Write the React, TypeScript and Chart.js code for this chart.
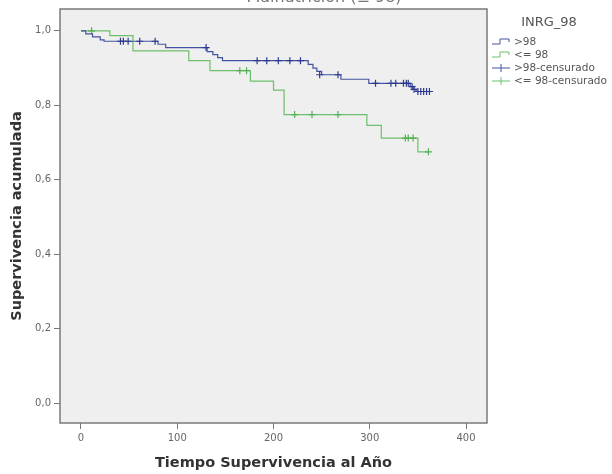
import React, { useEffect, useRef } from "react";
import { Chart, registerables } from "chart.js";

Chart.register(...registerables);

// Kaplan-Meier curve, group ">98"
const blueTime = [0, 5, 12, 20, 24, 80, 88, 131, 137, 142, 147, 236, 241, 245, 250, 270, 299, 342, 345, 348, 362];
const blueSurv = [1, 0.992, 0.984, 0.976, 0.972, 0.964, 0.955, 0.944, 0.936, 0.928, 0.92, 0.91, 0.9, 0.891, 0.882, 0.87, 0.859, 0.85, 0.843, 0.837, 0.837];
// censored observations, group ">98"
const blueCensTime = [41, 44, 49, 61, 77, 130, 183, 193, 205, 217, 228, 248, 267, 306, 322, 327, 335, 338, 340, 344, 346, 350, 353, 356, 359, 362];
const blueCensSurv = [0.972, 0.972, 0.972, 0.972, 0.972, 0.955, 0.92, 0.92, 0.92, 0.92, 0.92, 0.882, 0.882, 0.859, 0.859, 0.859, 0.859, 0.859, 0.859, 0.85, 0.843, 0.837, 0.837, 0.837, 0.837, 0.837];

// Kaplan-Meier curve, group "<= 98"
const greenTime = [0, 30, 54, 112, 134, 176, 200, 211, 297, 312, 350, 361];
const greenSurv = [1, 0.987, 0.946, 0.92, 0.893, 0.865, 0.841, 0.775, 0.746, 0.712, 0.675, 0.675];
// censored observations, group "<= 98"
const greenCensTime = [11, 165, 172, 222, 240, 267, 337, 340, 345, 361];
const greenCensSurv = [1, 0.893, 0.893, 0.775, 0.775, 0.775, 0.712, 0.712, 0.712, 0.675];

const xTicks = [0, 100, 200, 300, 400];
const yTicks = [0, 0.2, 0.4, 0.6, 0.8, 1.0];
const yTickLabels = ["0,0", "0,2", "0,4", "0,6", "0,8", "1,0"];

const legendTitle = "INRG_98";
const legendLabels = [">98", "<= 98", ">98-censurado", "<= 98-censurado"];
const chartTitle = "Malnutrición (≥ 98)";
const xTitle = "Tiempo Supervivencia al Año";
const yTitle = "Supervivencia acumulada";

const BLUE = "#44539f";
const GREEN = "#6cc06c";
const FONT = "'DejaVu Sans', sans-serif";

function toPoints(xs: number[], ys: number[]) {
  return xs.map((x, i) => ({ x, y: ys[i] }));
}

export default function App() {
  const ref = useRef<HTMLCanvasElement | null>(null);

  useEffect(() => {
    if (!ref.current) return;

    const framePlugin = {
      id: "frame",
      beforeDatasetsDraw(chart: any) {
        const { ctx, chartArea: a } = chart;
        ctx.save();
        ctx.fillStyle = "#efefef";
        ctx.fillRect(a.left, a.top, a.right - a.left, a.bottom - a.top);
        ctx.restore();
      },
      afterDraw(chart: any) {
        const { ctx, chartArea: a } = chart;
        ctx.save();
        ctx.strokeStyle = "#7a7a7a";
        ctx.lineWidth = 1.5;
        ctx.strokeRect(a.left, a.top, a.right - a.left, a.bottom - a.top);

        // partially visible title at top (cut by the top edge)
        ctx.fillStyle = "#777";
        ctx.font = `16px ${FONT}`;
        ctx.textAlign = "center";
        ctx.textBaseline = "alphabetic";
        ctx.fillText(chartTitle, 324, 1.5);

        // legend
        ctx.font = `13px ${FONT}`;
        ctx.fillStyle = "#555";
        ctx.textBaseline = "middle";
        ctx.fillText(legendTitle, 549, 23);
        ctx.font = `10.5px ${FONT}`;
        ctx.textAlign = "left";
        const ys = [42, 55, 68, 81];
        const cols = [BLUE, GREEN, BLUE, GREEN];
        legendLabels.forEach((lab, i) => {
          const y = ys[i];
          ctx.strokeStyle = cols[i];
          ctx.lineWidth = 1;
          ctx.beginPath();
          if (i < 2) {
            ctx.moveTo(492, y + 2);
            ctx.lineTo(500, y + 2);
            ctx.lineTo(500, y - 3);
            ctx.lineTo(509, y - 3);
            ctx.lineTo(509, y);
          } else {
            ctx.moveTo(492, y);
            ctx.lineTo(510, y);
            ctx.moveTo(501, y - 4);
            ctx.lineTo(501, y + 4);
          }
          ctx.stroke();
          ctx.fillStyle = "#555";
          ctx.fillText(lab, 514, y);
        });
        ctx.restore();
      },
    };

    const chart = new Chart(ref.current, {
      type: "scatter",
      data: {
        datasets: [
          {
            label: legendLabels[2],
            data: toPoints(blueCensTime, blueCensSurv),
            showLine: false,
            pointStyle: "cross",
            pointRadius: 3.5,
            borderColor: "#2b3a8e",
            borderWidth: 1.2,
            backgroundColor: "#2b3a8e",
          },
          {
            label: legendLabels[0],
            data: toPoints(blueTime, blueSurv),
            showLine: true,
            stepped: true,
            pointRadius: 0,
            borderColor: BLUE,
            borderWidth: 1.2,
            fill: false,
          },
          {
            label: legendLabels[3],
            data: toPoints(greenCensTime, greenCensSurv),
            showLine: false,
            pointStyle: "cross",
            pointRadius: 3.5,
            borderColor: "#55b055",
            borderWidth: 1.2,
            backgroundColor: "#55b055",
          },
          {
            label: legendLabels[1],
            data: toPoints(greenTime, greenSurv),
            showLine: true,
            stepped: true,
            pointRadius: 0,
            borderColor: GREEN,
            borderWidth: 1.2,
            fill: false,
          },
        ],
      },
      options: {
        responsive: false,
        animation: false,
        devicePixelRatio: 1,
        layout: { padding: { left: 0, top: 7, right: 125, bottom: 0 } },
        plugins: {
          legend: { display: false },
          tooltip: { enabled: false },
          title: { display: false },
        },
        scales: {
          x: {
            type: "linear",
            min: -21.8,
            max: 421.8,
            afterFit(axis: any) {
              axis.height = 51;
            },
            afterBuildTicks(axis: any) {
              axis.ticks = xTicks.map((v) => ({ value: v }));
            },
            grid: {
              display: true,
              drawOnChartArea: false,
              drawTicks: true,
              tickLength: 6,
              color: "#777",
            },
            border: { display: false },
            ticks: {
              padding: 3,
              color: "#666",
              font: { family: FONT, size: 10 },
              callback: (v: any) => String(v),
            },
            title: {
              display: true,
              text: xTitle,
              color: "#333",
              font: { family: FONT, size: 14.5, weight: "bold" },
              padding: { top: 0, bottom: 2 },
            },
          },
          y: {
            type: "linear",
            min: -0.0535,
            max: 1.0587,
            afterFit(axis: any) {
              axis.width = 60;
            },
            afterBuildTicks(axis: any) {
              axis.ticks = yTicks.map((v) => ({ value: v }));
            },
            grid: {
              display: true,
              drawOnChartArea: false,
              drawTicks: true,
              tickLength: 6,
              color: "#777",
            },
            border: { display: false },
            ticks: {
              padding: 3,
              color: "#666",
              font: { family: FONT, size: 10 },
              callback: (v: any) => {
                const i = yTicks.findIndex((t) => Math.abs(t - Number(v)) < 1e-6);
                return i >= 0 ? yTickLabels[i] : "";
              },
            },
            title: {
              display: true,
              text: yTitle,
              color: "#333",
              font: { family: FONT, size: 14.5, weight: "bold" },
              padding: { top: 9, bottom: 0 },
            },
          },
        },
      },
      plugins: [framePlugin],
    } as any);

    return () => chart.destroy();
  }, []);

  return (
    <div style={{ position: "absolute", left: 0, top: 0, width: 612, height: 474, background: "#ffffff" }}>
      <canvas ref={ref} width={612} height={474} />
    </div>
  );
}
